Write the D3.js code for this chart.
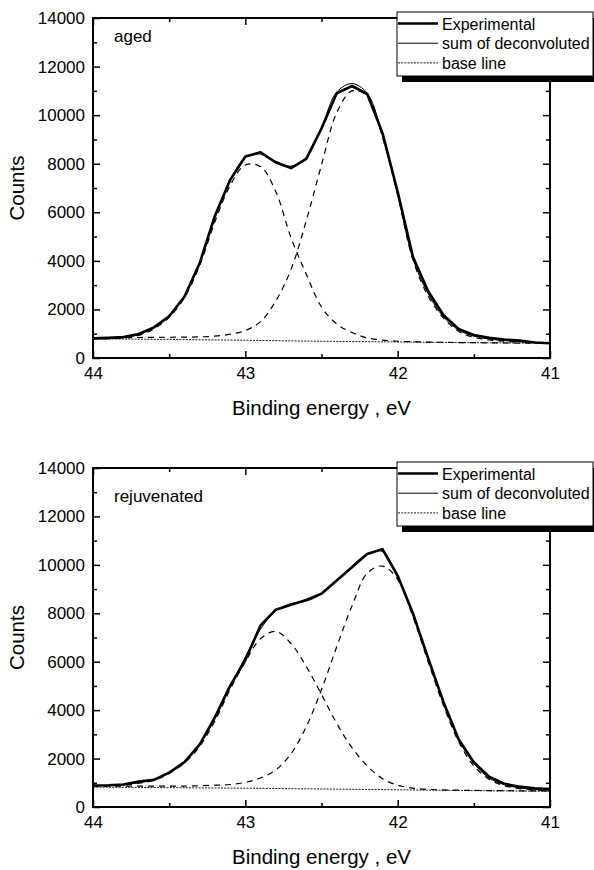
<!DOCTYPE html>
<html><head><meta charset="utf-8">
<script src="https://cdn.jsdelivr.net/npm/d3@7"></script>
<style>body{margin:0;background:#fff} svg{display:block}</style>
</head><body><svg id="c" width="594" height="870"></svg>
<script>
// ---- data ----
const energy = [44.0,43.9,43.8,43.7,43.6,43.5,43.4,43.3,43.2,43.1,43.0,42.9,42.8,42.7,42.6,42.5,42.4,42.3,42.2,42.1,42.0,41.9,41.8,41.7,41.6,41.5,41.4,41.3,41.2,41.1,41.0];
const baseEnergy = [44.0,43.5,43.0,42.5,42.0,41.5,41.0];

const agedExperimental = [810,830,860,990,1260,1720,2520,3900,5850,7330,8300,8470,8050,7820,8200,9450,10900,11200,10870,9270,6840,4170,2750,1770,1200,950,830,760,720,640,605];
const agedSum          = [800,820,850,960,1250,1750,2550,3900,5750,7300,8250,8400,8100,7900,8250,9500,10950,11300,10900,9200,6750,4100,2650,1700,1150,900,780,720,680,640,620];
const agedComp1        = [790,800,830,930,1200,1680,2480,3800,5600,7100,7950,7880,6850,4950,3450,2100,1400,1050,830,740,690,670,655,645,635,630,625,620,615,612,610];
const agedComp2        = [840,840,840,845,850,855,860,870,900,980,1130,1500,2350,3650,5650,7950,10100,11000,10800,9100,6700,4050,2550,1650,1100,850,740,690,660,640,620];
const agedBase         = [790,765,730,690,660,630,610];

const rejExperimental = [890,900,930,1050,1120,1420,1850,2580,3700,5000,6070,7500,8150,8350,8550,8810,9350,9900,10450,10650,9550,8000,6150,4350,2800,1850,1250,960,840,770,740];
const rejSum          = [880,890,920,1000,1130,1420,1870,2600,3650,4950,6200,7350,8100,8400,8500,8800,9350,9950,10450,10550,9500,7950,6100,4300,2800,1800,1200,920,790,730,700];
const rejComp1        = [860,870,900,980,1100,1380,1820,2500,3550,4850,6000,6950,7250,6750,5800,4650,3450,2450,1700,1170,900,780,730,705,695,685,680,675,670,665,660];
const rejComp2        = [860,860,860,860,860,860,865,880,900,930,1020,1200,1530,2200,3320,4850,6620,8300,9650,9950,9400,7850,6000,4200,2700,1700,1150,880,760,700,670];
const rejBase         = [820,800,775,745,710,675,650];

const xTicksMajor = [44,43,42,41];
const xTicksMinor = [43.5,42.5,41.5];
const yTicksMajor = [0,2000,4000,6000,8000,10000,12000,14000];
const yTicksMinor = [1000,3000,5000,7000,9000,11000,13000];
const legendLabels = ["Experimental","sum of deconvoluted","base line"];
const panelLabels = ["aged","rejuvenated"];
const xTitle = "Binding energy , eV";
const yTitle = "Counts";

// ---- drawing ----
const FONT = "'Liberation Sans', Arial, Helvetica, sans-serif";
const svg = d3.select("#c");
const L = 93, R = 550;

const panels = [
  {top:18, bottom:358, label:panelLabels[0], labelY:42, exp:agedExperimental, sum:agedSum, c1:agedComp1, c2:agedComp2, base:agedBase},
  {top:468, bottom:807, label:panelLabels[1], labelY:502, exp:rejExperimental, sum:rejSum, c1:rejComp1, c2:rejComp2, base:rejBase}
];

panels.forEach(p => {
  const x = d3.scaleLinear().domain([44,41]).range([L,R]);
  const y = d3.scaleLinear().domain([0,14000]).range([p.bottom,p.top]);
  const g = svg.append("g");

  const line = (curve) => d3.line().x(d=>x(d[0])).y(d=>y(d[1])).curve(curve);
  const pts = arr => energy.map((e,i)=>[e,arr[i]]);

  // baseline
  g.append("path").attr("d", line(d3.curveLinear)(baseEnergy.map((e,i)=>[e,p.base[i]])))
    .attr("fill","none").attr("stroke","#000").attr("stroke-width",0.9).attr("stroke-dasharray","2,1.2");
  // components
  [p.c1,p.c2].forEach(c => {
    g.append("path").attr("d", line(d3.curveCatmullRom)(pts(c)))
      .attr("fill","none").attr("stroke","#000").attr("stroke-width",1.2).attr("stroke-dasharray","6,5");
  });
  // experimental
  g.append("path").attr("d", line(d3.curveLinear)(pts(p.exp)))
    .attr("fill","none").attr("stroke","#000").attr("stroke-width",2.6).attr("stroke-linejoin","round");
  // sum
  g.append("path").attr("d", line(d3.curveCatmullRom)(pts(p.sum)))
    .attr("fill","none").attr("stroke","#000").attr("stroke-width",1);

  // axes
  const styleAxis = sel => {
    sel.select(".domain").remove();
    sel.selectAll("line").attr("stroke","#000").attr("stroke-width",1.5);
    sel.selectAll("text").attr("font-family",FONT).attr("font-size","17px").attr("fill","#000");
  };
  g.append("g").attr("transform",`translate(0,${p.bottom})`)
    .call(d3.axisBottom(x).tickValues(xTicksMajor).tickSize(-7).tickPadding(9).tickFormat(d3.format("d"))).call(styleAxis);
  g.append("g").attr("transform",`translate(0,${p.bottom})`)
    .call(d3.axisBottom(x).tickValues(xTicksMinor).tickSize(-4).tickFormat("")).call(styleAxis);
  g.append("g").attr("transform",`translate(0,${p.top})`)
    .call(d3.axisTop(x).tickValues(xTicksMajor).tickSize(-7).tickFormat("")).call(styleAxis);
  g.append("g").attr("transform",`translate(0,${p.top})`)
    .call(d3.axisTop(x).tickValues(xTicksMinor).tickSize(-4).tickFormat("")).call(styleAxis);
  g.append("g").attr("transform",`translate(${L},0)`)
    .call(d3.axisLeft(y).tickValues(yTicksMajor).tickSize(-7).tickPadding(8).tickFormat(d3.format("d"))).call(styleAxis);
  g.append("g").attr("transform",`translate(${L},0)`)
    .call(d3.axisLeft(y).tickValues(yTicksMinor).tickSize(-4).tickFormat("")).call(styleAxis);
  g.append("g").attr("transform",`translate(${R},0)`)
    .call(d3.axisRight(y).tickValues(yTicksMajor).tickSize(-7).tickFormat("")).call(styleAxis);
  g.append("g").attr("transform",`translate(${R},0)`)
    .call(d3.axisRight(y).tickValues(yTicksMinor).tickSize(-4).tickFormat("")).call(styleAxis);

  // frame
  g.append("rect").attr("x",L).attr("y",p.top).attr("width",R-L).attr("height",p.bottom-p.top)
    .attr("fill","none").attr("stroke","#000").attr("stroke-width",2);

  // panel label
  g.append("text").attr("x",114).attr("y",p.labelY).text(p.label)
    .attr("font-family",FONT).attr("font-size","17px");

  // axis titles
  g.append("text").attr("x",(L+R)/2).attr("y",p.bottom+57).attr("text-anchor","middle").text(xTitle)
    .attr("font-family",FONT).attr("font-size","20.5px");
  g.append("text").attr("transform",`translate(24,${(p.top+p.bottom)/2}) rotate(-90)`).attr("text-anchor","middle").text(yTitle)
    .attr("font-family",FONT).attr("font-size","20.5px");

  // legend
  const lx = 397, ly = p.top - 6, lw = 196, lh = 64;
  g.append("rect").attr("x",lx+5).attr("y",ly+6).attr("width",lw).attr("height",lh).attr("fill","#000");
  g.append("rect").attr("x",lx).attr("y",ly).attr("width",lw).attr("height",lh).attr("fill","#fff").attr("stroke","#000").attr("stroke-width",1);
  const styles = [{w:2.6,da:null},{w:1,da:null},{w:0.9,da:"2,1.2"}];
  legendLabels.forEach((t,i) => {
    const cy = ly + 11.5 + i*19.7;
    const ln = g.append("line").attr("x1",lx+1).attr("x2",lx+41).attr("y1",cy).attr("y2",cy)
      .attr("stroke","#000").attr("stroke-width",styles[i].w);
    if (styles[i].da) ln.attr("stroke-dasharray",styles[i].da);
    g.append("text").attr("x",lx+45).attr("y",cy+6).text(t)
      .attr("font-family",FONT).attr("font-size","16px");
  });
});
</script>
</body></html>
